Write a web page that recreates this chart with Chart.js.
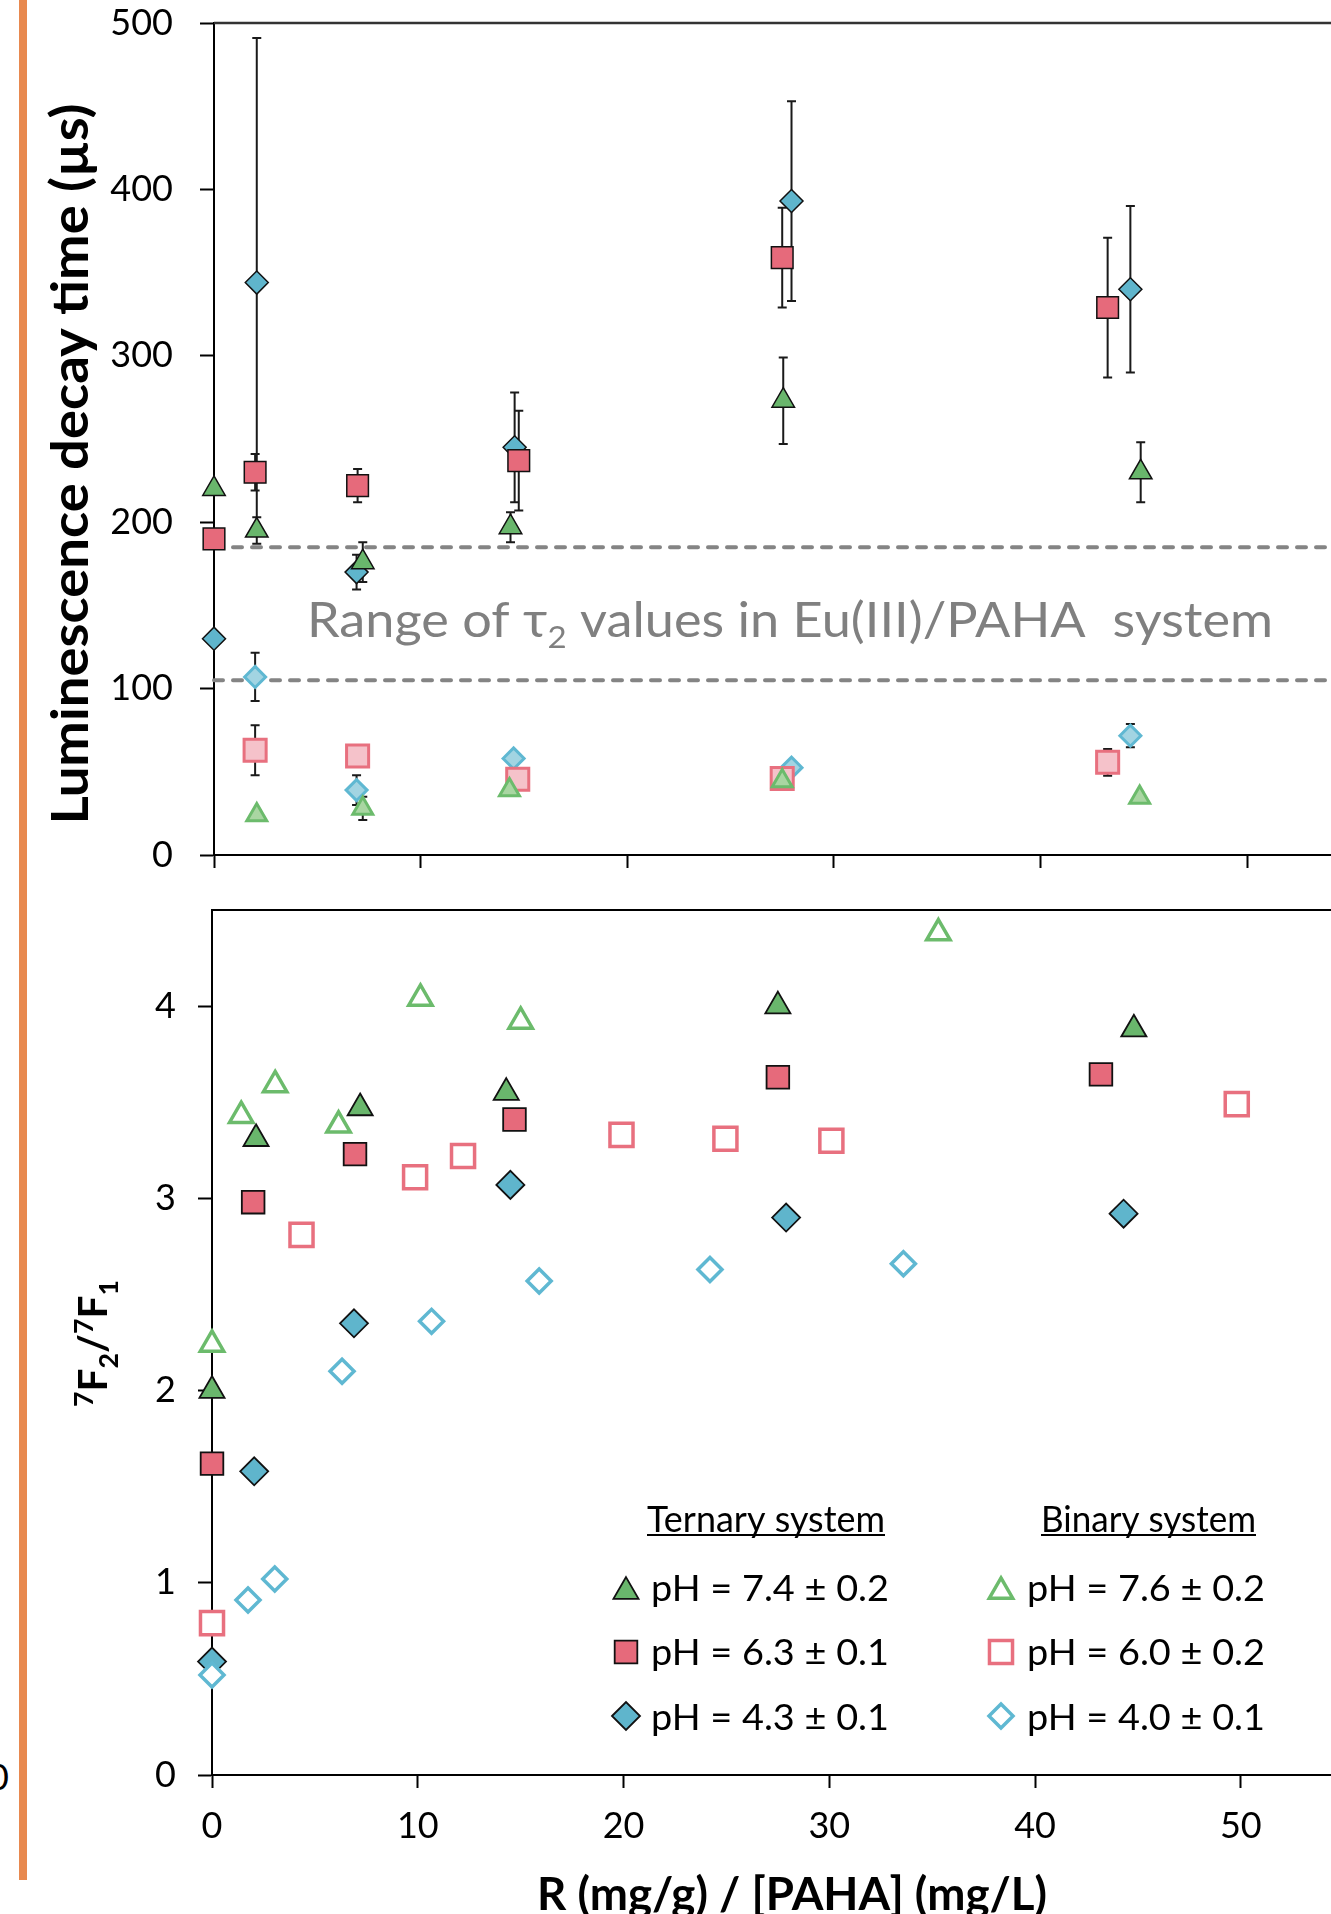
<!DOCTYPE html>
<html>
<head>
<meta charset="utf-8">
<title>Eu(III) luminescence decay and 7F2/7F1 ratio</title>
<script src="https://cdn.jsdelivr.net/npm/chart.js"></script>
<style>
  html, body { margin:0; padding:0; background:#fff; width:1331px; height:1914px; overflow:hidden; }
  #bar { position:absolute; left:19px; top:0; width:8px; height:1880px; background:#E8894F; }
  #ghost { position:absolute; left:-12px; top:1756px; font:36px Lato, sans-serif; line-height:40px; color:#000; }
  canvas { position:absolute; left:0; }
  #topCanvas { top:0; }
  #botCanvas { top:860px; }
</style>
</head>
<body>
<div id="bar"></div>
<div id="ghost">0</div>
<canvas id="topCanvas" width="1331" height="900"></canvas>
<canvas id="botCanvas" width="1331" height="1100"></canvas>
<script>
// ---------------- DATA ----------------
const xTicks    = [0, 10, 20, 30, 40, 50];
const yTicksTop = [0, 100, 200, 300, 400, 500];
const yTicksBot = [0, 1, 2, 3, 4];

// Top panel: luminescence decay time (µs), ternary system (filled) with error bars
const topTernR_pH74   = [0, 2.07, 7.2, 14.35, 27.55, 44.85];
const topTernTau_pH74 = [220, 195, 176, 197, 273, 230];
const topTernErr_pH74 = [0, 8, 12, 9, 26, 18];
const topTernR_pH63   = [0, 1.99, 6.95, 14.75, 27.5, 43.25];
const topTernTau_pH63 = [190, 230, 222, 237, 359, 329];
const topTernErr_pH63 = [0, 11, 10, 30, 30, 42];
const topTernR_pH43   = [0, 2.07, 6.9, 14.55, 27.95, 44.35];
const topTernTau_pH43 = [130, 344, 170, 245, 393, 340];
const topTernErr_pH43 = [0, 147, 10.5, 33, 60, 50];
// Top panel: short component (light markers)
const topBinR_pH76   = [2.07, 7.2, 14.3, 27.5, 44.8];
const topBinTau_pH76 = [24, 28, 39, 44.5, 34.5];
const topBinErr_pH76 = [3, 7, 2, 2, 3];
const topBinR_pH60   = [1.99, 6.95, 14.7, 27.5, 43.25];
const topBinTau_pH60 = [63, 59.5, 45.5, 46, 55.7];
const topBinErr_pH60 = [15, 3, 3, 3, 8];
const topBinR_pH40   = [1.99, 6.9, 14.5, 27.95, 44.35];
const topBinTau_pH40 = [107, 39, 58, 52.5, 71.7];
const topBinErr_pH40 = [14.5, 9, 3, 3, 7];
const tau2Range = [105, 185];

// Bottom panel: 7F2/7F1 ratio
const botTernR_pH74     = [0, 2.14, 7.2, 14.3, 27.5, 44.8];
const botTernRatio_pH74 = [2.0, 3.31, 3.47, 3.55, 4.0, 3.88];
const botTernR_pH63     = [0, 2.0, 6.95, 14.7, 27.5, 43.2];
const botTernRatio_pH63 = [1.62, 2.98, 3.23, 3.41, 3.63, 3.645];
const botTernR_pH43     = [0, 2.05, 6.9, 14.5, 27.9, 44.3];
const botTernRatio_pH43 = [0.59, 1.58, 2.35, 3.07, 2.90, 2.92];
const botBinR_pH76      = [0, 1.42, 3.07, 6.15, 10.13, 15.0, 35.3];
const botBinRatio_pH76  = [2.24, 3.43, 3.59, 3.38, 4.04, 3.92, 4.38];
const botBinR_pH60      = [0, 4.35, 9.87, 12.2, 19.9, 24.95, 30.1, 49.8];
const botBinRatio_pH60  = [0.79, 2.81, 3.11, 3.22, 3.33, 3.31, 3.30, 3.49];
const botBinR_pH40      = [0, 1.75, 3.05, 6.32, 10.67, 15.9, 24.2, 33.6];
const botBinRatio_pH40  = [0.52, 0.91, 1.02, 2.10, 2.36, 2.57, 2.63, 2.66];

const ternaryLabels = ['pH = 7.4 ± 0.2', 'pH = 6.3 ± 0.1', 'pH = 4.3 ± 0.1'];
const binaryLabels  = ['pH = 7.6 ± 0.2', 'pH = 6.0 ± 0.2', 'pH = 4.0 ± 0.1'];

// ---------------- STYLE ----------------
const FONT = 'Lato, "Noto Sans", "DejaVu Sans", sans-serif';
Chart.defaults.font.family = FONT;
Chart.defaults.color = '#000';

const GREEN = '#69B66C', RED = '#E66A7B', BLUE = '#5FB5CC';
const GREEN_L = '#6CBB6C', RED_L = '#E8707F', BLUE_L = '#5FB8D2';

function series(xs, ys, errs, st, label, group) {
  return {
    label, group,
    data: xs.map((x, i) => ({ x, y: ys[i] })),
    err: errs,
    pointStyle: st.shape, pointRadius: st.r, pointHoverRadius: st.r,
    pointBackgroundColor: st.fill, pointBorderColor: st.stroke,
    pointBorderWidth: st.bw, pointHoverBorderWidth: st.bw,
    showLine: false, clip: false, order: 0
  };
}
function dashed(yVal, xMax) {
  return {
    data: [{ x: 0, y: yVal }, { x: xMax, y: yVal }],
    showLine: true, pointRadius: 0, borderColor: '#848484', borderWidth: 4,
    borderDash: [9, 10], borderCapStyle: 'round', clip: false, order: 5
  };
}
function xAxis(max, fixedH, showLabels, pad) {
  return {
    type: 'linear', position: 'bottom', min: 0, max,
    afterBuildTicks: s => { s.ticks = xTicks.map(v => ({ value: v })); },
    afterFit: s => { s.height = fixedH; s.paddingLeft = 0; s.paddingRight = 0; s.paddingTop = 0; s.paddingBottom = 0; },
    grid: { drawOnChartArea: false, drawTicks: true, tickLength: 13, tickColor: '#000', tickWidth: 2 },
    border: { display: true, color: '#000', width: 2 },
    ticks: { display: showLabels, color: '#000', font: { size: 36 }, padding: pad, maxRotation: 0, autoSkip: false },
    title: { display: false }
  };
}
function yAxis(max, tickVals, fixedW, pad) {
  return {
    type: 'linear', position: 'left', min: 0, max,
    afterBuildTicks: s => { s.ticks = tickVals.map(v => ({ value: v })); },
    afterFit: s => { s.width = fixedW; s.paddingLeft = 0; s.paddingRight = 0; s.paddingTop = 0; s.paddingBottom = 0; },
    grid: { drawOnChartArea: false, drawTicks: true, tickLength: 14, tickColor: '#000', tickWidth: 2 },
    border: { display: true, color: '#000', width: 2 },
    ticks: { color: '#000', font: { size: 36 }, padding: pad, autoSkip: false },
    title: { display: false }
  };
}

// draw a run of text pieces, horizontally fitted to a target width
function drawRich(ctx, parts, x, y, targetW, align, color) {
  let total = 0;
  parts.forEach(p => { ctx.font = p.font; p.w = ctx.measureText(p.t).width; total += p.w; });
  const s = targetW ? targetW / total : 1;
  ctx.save();
  ctx.translate(x, y);
  ctx.scale(s, 1);
  ctx.fillStyle = color || '#000';
  ctx.textAlign = 'left'; ctx.textBaseline = 'alphabetic';
  let cx = align === 'center' ? -total / 2 : (align === 'right' ? -total : 0);
  parts.forEach(p => { ctx.font = p.font; ctx.fillText(p.t, cx, p.dy || 0); cx += p.w; });
  ctx.restore();
  return total * s;
}
function drawMarker(ctx, shape, x, y, r, fill, stroke, bw) {
  ctx.save();
  ctx.beginPath();
  if (shape === 'triangle') {
    ctx.moveTo(x, y - r);
    ctx.lineTo(x + r * Math.sin(2 * Math.PI / 3), y - r * Math.cos(2 * Math.PI / 3));
    ctx.lineTo(x + r * Math.sin(4 * Math.PI / 3), y - r * Math.cos(4 * Math.PI / 3));
  } else if (shape === 'rect') {
    const s = r * Math.SQRT1_2; ctx.rect(x - s, y - s, 2 * s, 2 * s);
  } else {
    ctx.moveTo(x - r, y); ctx.lineTo(x, y - r); ctx.lineTo(x + r, y); ctx.lineTo(x, y + r);
  }
  ctx.closePath();
  ctx.fillStyle = fill; ctx.fill();
  ctx.lineWidth = bw; ctx.strokeStyle = stroke; ctx.stroke();
  ctx.restore();
}

const errorBars = {
  id: 'errorBars',
  beforeDatasetsDraw(chart) {
    const { ctx, scales: { x, y } } = chart;
    ctx.save();
    ctx.strokeStyle = '#1a1a1a'; ctx.lineWidth = 2;
    chart.data.datasets.forEach(ds => {
      if (!ds.err) return;
      ds.data.forEach((p, i) => {
        const e = ds.err[i]; if (!e) return;
        const px = x.getPixelForValue(p.x);
        const y1 = y.getPixelForValue(p.y + e), y2 = y.getPixelForValue(p.y - e);
        ctx.beginPath();
        ctx.moveTo(px, y1); ctx.lineTo(px, y2);
        ctx.moveTo(px - 4.5, y1); ctx.lineTo(px + 4.5, y1);
        ctx.moveTo(px - 4.5, y2); ctx.lineTo(px + 4.5, y2);
        ctx.stroke();
      });
    });
    ctx.restore();
  }
};
const frameTop = {
  id: 'frameTop',
  afterDatasetsDraw(chart, args, opts) {
    const { ctx, chartArea: a } = chart;
    ctx.save(); ctx.strokeStyle = opts.color; ctx.lineWidth = opts.width;
    ctx.beginPath(); ctx.moveTo(a.left, a.top); ctx.lineTo(a.right, a.top); ctx.stroke();
    ctx.restore();
  }
};

// ---------------- TOP CHART ----------------
const TOP_XMAX = 54.06;
const topTexts = {
  id: 'topTexts',
  beforeDatasetsDraw(chart) {
    const { ctx, chartArea: a, scales: { y } } = chart;
    // band label
    const mid = y.getPixelForValue((tau2Range[0] + tau2Range[1]) / 2);
    drawRich(ctx, [
      { t: 'Range of τ', font: '49px ' + FONT },
      { t: '2', font: '31px ' + FONT, dy: 11 },
      { t: ' values in Eu(III)/PAHA  system', font: '49px ' + FONT }
    ], a.left + 93, mid + 23, 966, 'left', '#808080');
    // y title
    ctx.save();
    ctx.translate(88, (a.top + a.bottom) / 2 + 25);
    ctx.rotate(-Math.PI / 2);
    drawRich(ctx, [{ t: 'Luminescence decay time (µs)', font: 'bold 51px ' + FONT }], 0, 0, 721, 'center');
    ctx.restore();
  }
};

new Chart(document.getElementById('topCanvas'), {
  type: 'scatter',
  data: {
    datasets: [
      series(topBinR_pH76, topBinTau_pH76, topBinErr_pH76, { shape: 'triangle', r: 11.5, fill: '#A9D6A2', stroke: GREEN_L, bw: 3 }),
      series(topBinR_pH60, topBinTau_pH60, topBinErr_pH60, { shape: 'rect', r: 15.6, fill: '#F5C2CA', stroke: RED_L, bw: 3 }),
      series(topBinR_pH40, topBinTau_pH40, topBinErr_pH40, { shape: 'rectRot', r: 10.5, fill: '#A2D4E2', stroke: BLUE_L, bw: 3 }),
      series(topTernR_pH74, topTernTau_pH74, topTernErr_pH74, { shape: 'triangle', r: 13, fill: GREEN, stroke: '#111', bw: 1.5 }),
      series(topTernR_pH63, topTernTau_pH63, topTernErr_pH63, { shape: 'rect', r: 15.3, fill: RED, stroke: '#111', bw: 1.5 }),
      series(topTernR_pH43, topTernTau_pH43, topTernErr_pH43, { shape: 'rectRot', r: 11.5, fill: BLUE, stroke: '#111', bw: 1.5 }),
      dashed(tau2Range[1], TOP_XMAX),
      dashed(tau2Range[0], TOP_XMAX)
    ]
  },
  options: {
    responsive: false, animation: false, events: [], devicePixelRatio: 1,
    layout: { autoPadding: false, padding: { top: 23, left: 0, right: 0, bottom: 0 } },
    plugins: { legend: { display: false }, tooltip: { enabled: false }, frameTop: { color: '#333', width: 2.5 } },
    scales: {
      x: xAxis(TOP_XMAX, 45, false, 0),
      y: yAxis(500, yTicksTop, 214, 27)
    }
  },
  plugins: [errorBars, topTexts, frameTop]
});

// ---------------- BOTTOM CHART ----------------
const BOT_XMAX = 54.38;
const OFF = 860; // canvas top in page
const botTexts = {
  id: 'botTexts',
  afterDraw(chart) {
    const { ctx } = chart;
    // x title
    drawRich(ctx, [{ t: 'R (mg/g) / [PAHA] (mg/L)', font: 'bold 46px ' + FONT }], 792, 1910 - OFF, 510, 'center');
    // y title 7F2/7F1
    ctx.save();
    ctx.translate(107, 1343.5 - OFF);
    ctx.rotate(-Math.PI / 2);
    const big = 'bold 41px ' + FONT, sm = 'bold 27px ' + FONT;
    drawRich(ctx, [
      { t: '7', font: sm, dy: -14 }, { t: 'F', font: big }, { t: '2', font: sm, dy: 11 },
      { t: '/', font: big },
      { t: '7', font: sm, dy: -14 }, { t: 'F', font: big }, { t: '1', font: sm, dy: 11 }
    ], 0, 0, 127, 'center');
    ctx.restore();
    // grouped legend
    const cols = [
      { title: 'Ternary system', group: 'ternary', labels: ternaryLabels, headCx: 766, headW: 238, markX: 626, textX: 651, textW: 238 },
      { title: 'Binary system', group: 'binary', labels: binaryLabels, headCx: 1148.5, headW: 215, markX: 1001, textX: 1027, textW: 238 }
    ];
    const headBase = 1532 - OFF;
    const rowBase = [1601, 1665, 1730].map(v => v - OFF);
    const rowMid = [1588, 1652, 1716].map(v => v - OFF);
    cols.forEach(c => {
      const w = drawRich(ctx, [{ t: c.title, font: '36px ' + FONT }], c.headCx, headBase, c.headW, 'center');
      ctx.save(); ctx.strokeStyle = '#000'; ctx.lineWidth = 2;
      ctx.beginPath(); ctx.moveTo(c.headCx - w / 2, headBase + 3); ctx.lineTo(c.headCx + w / 2, headBase + 3); ctx.stroke();
      ctx.restore();
      const dss = chart.data.datasets.filter(d => d.group === c.group);
      dss.forEach((d, i) => {
        const yy = rowMid[i] + (d.pointStyle === 'triangle' ? d.pointRadius * 0.25 : 0);
        drawMarker(ctx, d.pointStyle, c.markX, yy, d.pointRadius, d.pointBackgroundColor, d.pointBorderColor, d.pointBorderWidth);
        drawRich(ctx, [{ t: c.labels[i], font: '36px ' + FONT }], c.textX, rowBase[i], c.textW, 'left');
      });
    });
  }
};

new Chart(document.getElementById('botCanvas'), {
  type: 'scatter',
  data: {
    datasets: [
      series(botBinR_pH76, botBinRatio_pH76, null, { shape: 'triangle', r: 13.5, fill: '#fff', stroke: GREEN_L, bw: 3.5 }, binaryLabels[0], 'binary'),
      series(botBinR_pH60, botBinRatio_pH60, null, { shape: 'rect', r: 16.3, fill: '#fff', stroke: RED_L, bw: 3.5 }, binaryLabels[1], 'binary'),
      series(botBinR_pH40, botBinRatio_pH40, null, { shape: 'rectRot', r: 12, fill: '#fff', stroke: BLUE_L, bw: 3.5 }, binaryLabels[2], 'binary'),
      series(botTernR_pH74, botTernRatio_pH74, null, { shape: 'triangle', r: 14.5, fill: GREEN, stroke: '#111', bw: 1.8 }, ternaryLabels[0], 'ternary'),
      series(botTernR_pH63, botTernRatio_pH63, null, { shape: 'rect', r: 16, fill: RED, stroke: '#111', bw: 1.8 }, ternaryLabels[1], 'ternary'),
      series(botTernR_pH43, botTernRatio_pH43, null, { shape: 'rectRot', r: 14, fill: BLUE, stroke: '#111', bw: 1.8 }, ternaryLabels[2], 'ternary')
    ]
  },
  options: {
    responsive: false, animation: false, events: [], devicePixelRatio: 1,
    layout: { autoPadding: false, padding: { top: 50, left: 0, right: 0, bottom: 0 } },
    plugins: { legend: { display: false }, tooltip: { enabled: false }, frameTop: { color: '#000', width: 2 } },
    scales: {
      x: xAxis(BOT_XMAX, 185, true, 17),
      y: yAxis(4.5, yTicksBot, 212, 22)
    }
  },
  plugins: [frameTop, botTexts]
});
</script>
</body>
</html>
